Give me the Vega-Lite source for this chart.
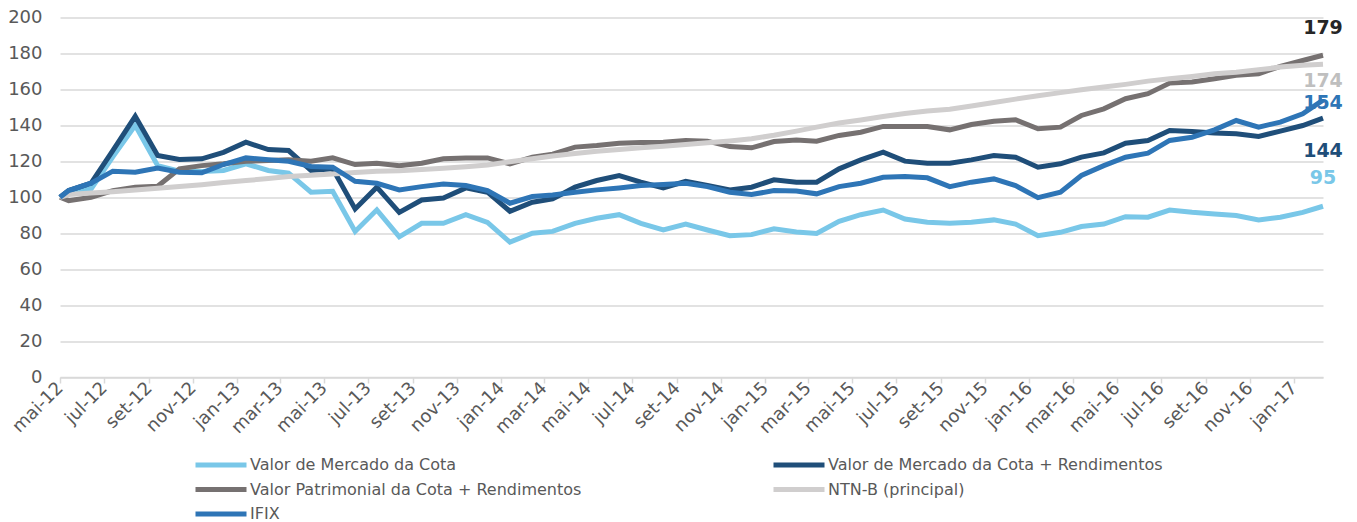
{
  "$schema": "https://vega.github.io/schema/vega-lite/v6.json",
  "width": 1263,
  "height": 359.5,
  "autosize": {"type": "none"},
  "padding": {"left": 60, "top": 17.5, "right": 34, "bottom": 145},
  "background": "white",
  "config": {
    "view": {"stroke": null},
    "font": "DejaVu Sans",
    "legend": {
      "orient": "none",
      "legendX": 133,
      "legendY": 437.5,
      "columns": 2,
      "symbolType": "stroke",
      "symbolStrokeWidth": 5,
      "symbolSize": 2601,
      "clipHeight": 20,
      "rowPadding": 4.5,
      "columnPadding": 189,
      "labelOffset": 1,
      "labelFontSize": 16,
      "labelFont": "DejaVu Sans",
      "labelColor": "#595959",
      "labelLimit": 0
    }
  },
  "datasets": {
    "mercado": [
      {"date": "2012-05-01", "value": 100},
      {"date": "2012-05-13", "value": 102.8}, {"date": "2012-06-13", "value": 104.6}, {"date": "2012-07-13", "value": 122.5}, {"date": "2012-08-13", "value": 140}, {"date": "2012-09-13", "value": 117.6}, {"date": "2012-10-13", "value": 114.5}, {"date": "2012-11-13", "value": 114.3}, {"date": "2012-12-13", "value": 114.9},
      {"date": "2013-01-13", "value": 118.6}, {"date": "2013-02-13", "value": 114.9}, {"date": "2013-03-13", "value": 113.4}, {"date": "2013-04-13", "value": 102.8}, {"date": "2013-05-13", "value": 103.3}, {"date": "2013-06-13", "value": 81}, {"date": "2013-07-13", "value": 93}, {"date": "2013-08-13", "value": 78}, {"date": "2013-09-13", "value": 85.5}, {"date": "2013-10-13", "value": 85.5}, {"date": "2013-11-13", "value": 90.3}, {"date": "2013-12-13", "value": 86},
      {"date": "2014-01-13", "value": 75}, {"date": "2014-02-13", "value": 80}, {"date": "2014-03-13", "value": 81}, {"date": "2014-04-13", "value": 85.5}, {"date": "2014-05-13", "value": 88.3}, {"date": "2014-06-13", "value": 90.3}, {"date": "2014-07-13", "value": 85.5}, {"date": "2014-08-13", "value": 81.8}, {"date": "2014-09-13", "value": 85.1}, {"date": "2014-10-13", "value": 81.8}, {"date": "2014-11-13", "value": 78.6}, {"date": "2014-12-13", "value": 79.2},
      {"date": "2015-01-13", "value": 82.4}, {"date": "2015-02-13", "value": 80.7}, {"date": "2015-03-13", "value": 79.9}, {"date": "2015-04-13", "value": 86.6}, {"date": "2015-05-13", "value": 90.3}, {"date": "2015-06-13", "value": 92.9}, {"date": "2015-07-13", "value": 87.9}, {"date": "2015-08-13", "value": 86.1}, {"date": "2015-09-13", "value": 85.5}, {"date": "2015-10-13", "value": 86.1}, {"date": "2015-11-13", "value": 87.4}, {"date": "2015-12-13", "value": 85.1},
      {"date": "2016-01-13", "value": 78.6}, {"date": "2016-02-13", "value": 80.5}, {"date": "2016-03-13", "value": 83.7}, {"date": "2016-04-13", "value": 85.1}, {"date": "2016-05-13", "value": 89.2}, {"date": "2016-06-13", "value": 88.9}, {"date": "2016-07-13", "value": 92.9}, {"date": "2016-08-13", "value": 91.6}, {"date": "2016-09-13", "value": 90.7}, {"date": "2016-10-13", "value": 89.8}, {"date": "2016-11-13", "value": 87.4}, {"date": "2016-12-13", "value": 88.9},
      {"date": "2017-01-13", "value": 91.6}, {"date": "2017-02-10", "value": 95}
    ],
    "mercadoRend": [
      {"date": "2012-05-01", "value": 100},
      {"date": "2012-05-13", "value": 103.7}, {"date": "2012-06-13", "value": 107.8}, {"date": "2012-07-13", "value": 126}, {"date": "2012-08-13", "value": 145}, {"date": "2012-09-13", "value": 123.2}, {"date": "2012-10-13", "value": 121}, {"date": "2012-11-13", "value": 121.4}, {"date": "2012-12-13", "value": 125},
      {"date": "2013-01-13", "value": 130.6}, {"date": "2013-02-13", "value": 126.5}, {"date": "2013-03-13", "value": 126}, {"date": "2013-04-13", "value": 114.9}, {"date": "2013-05-13", "value": 115.8}, {"date": "2013-06-13", "value": 93.5}, {"date": "2013-07-13", "value": 105.6}, {"date": "2013-08-13", "value": 91.6}, {"date": "2013-09-13", "value": 98.5}, {"date": "2013-10-13", "value": 99.6}, {"date": "2013-11-13", "value": 105.2}, {"date": "2013-12-13", "value": 102.8},
      {"date": "2014-01-13", "value": 92.2}, {"date": "2014-02-13", "value": 97.2}, {"date": "2014-03-13", "value": 99.1}, {"date": "2014-04-13", "value": 105.6}, {"date": "2014-05-13", "value": 109.3}, {"date": "2014-06-13", "value": 112.1}, {"date": "2014-07-13", "value": 108.4}, {"date": "2014-08-13", "value": 105.2}, {"date": "2014-09-13", "value": 108.9}, {"date": "2014-10-13", "value": 106.5}, {"date": "2014-11-13", "value": 104.1}, {"date": "2014-12-13", "value": 105.6},
      {"date": "2015-01-13", "value": 109.7}, {"date": "2015-02-13", "value": 108.4}, {"date": "2015-03-13", "value": 108.4}, {"date": "2015-04-13", "value": 115.8}, {"date": "2015-05-13", "value": 120.8}, {"date": "2015-06-13", "value": 125.1}, {"date": "2015-07-13", "value": 120.1}, {"date": "2015-08-13", "value": 118.9}, {"date": "2015-09-13", "value": 118.9}, {"date": "2015-10-13", "value": 120.8}, {"date": "2015-11-13", "value": 123.2}, {"date": "2015-12-13", "value": 122.3},
      {"date": "2016-01-13", "value": 116.7}, {"date": "2016-02-13", "value": 118.6}, {"date": "2016-03-13", "value": 122.3}, {"date": "2016-04-13", "value": 124.7}, {"date": "2016-05-13", "value": 130.1}, {"date": "2016-06-13", "value": 131.6}, {"date": "2016-07-13", "value": 137.1}, {"date": "2016-08-13", "value": 136.6}, {"date": "2016-09-13", "value": 135.8}, {"date": "2016-10-13", "value": 135.3}, {"date": "2016-11-13", "value": 133.8}, {"date": "2016-12-13", "value": 136.8},
      {"date": "2017-01-13", "value": 139.9}, {"date": "2017-02-10", "value": 144}
    ],
    "patrimonial": [
      {"date": "2012-05-01", "value": 100},
      {"date": "2012-05-13", "value": 98.1}, {"date": "2012-06-13", "value": 100}, {"date": "2012-07-13", "value": 103.7}, {"date": "2012-08-13", "value": 105.6}, {"date": "2012-09-13", "value": 106.1}, {"date": "2012-10-13", "value": 115.8}, {"date": "2012-11-13", "value": 117.6}, {"date": "2012-12-13", "value": 118.6},
      {"date": "2013-01-13", "value": 120}, {"date": "2013-02-13", "value": 120.4}, {"date": "2013-03-13", "value": 120.8}, {"date": "2013-04-13", "value": 120}, {"date": "2013-05-13", "value": 121.9}, {"date": "2013-06-13", "value": 118.2}, {"date": "2013-07-13", "value": 118.9}, {"date": "2013-08-13", "value": 117.6}, {"date": "2013-09-13", "value": 118.9}, {"date": "2013-10-13", "value": 121.4}, {"date": "2013-11-13", "value": 121.9}, {"date": "2013-12-13", "value": 121.9},
      {"date": "2014-01-13", "value": 118.6}, {"date": "2014-02-13", "value": 122.3}, {"date": "2014-03-13", "value": 124}, {"date": "2014-04-13", "value": 127.9}, {"date": "2014-05-13", "value": 128.8}, {"date": "2014-06-13", "value": 130.1}, {"date": "2014-07-13", "value": 130.5}, {"date": "2014-08-13", "value": 130.6}, {"date": "2014-09-13", "value": 131.6}, {"date": "2014-10-13", "value": 131.2}, {"date": "2014-11-13", "value": 128.2}, {"date": "2014-12-13", "value": 127.5},
      {"date": "2015-01-13", "value": 131}, {"date": "2015-02-13", "value": 131.8}, {"date": "2015-03-13", "value": 131.2}, {"date": "2015-04-13", "value": 134.4}, {"date": "2015-05-13", "value": 136.2}, {"date": "2015-06-13", "value": 139.4}, {"date": "2015-07-13", "value": 139.4}, {"date": "2015-08-13", "value": 139.4}, {"date": "2015-09-13", "value": 137.5}, {"date": "2015-10-13", "value": 140.5}, {"date": "2015-11-13", "value": 142.3}, {"date": "2015-12-13", "value": 143.1},
      {"date": "2016-01-13", "value": 138.1}, {"date": "2016-02-13", "value": 139}, {"date": "2016-03-13", "value": 145.5}, {"date": "2016-04-13", "value": 149.2}, {"date": "2016-05-13", "value": 154.8}, {"date": "2016-06-13", "value": 157.6}, {"date": "2016-07-13", "value": 163.5}, {"date": "2016-08-13", "value": 164.1}, {"date": "2016-09-13", "value": 165.9}, {"date": "2016-10-13", "value": 167.8}, {"date": "2016-11-13", "value": 168.7}, {"date": "2016-12-13", "value": 172.8},
      {"date": "2017-01-13", "value": 176.1}, {"date": "2017-02-10", "value": 179}
    ],
    "ntnb": [
      {"date": "2012-05-01", "value": 100},
      {"date": "2012-05-13", "value": 101.5}, {"date": "2012-06-13", "value": 102.3}, {"date": "2012-07-13", "value": 103.1}, {"date": "2012-08-13", "value": 104}, {"date": "2012-09-13", "value": 105}, {"date": "2012-10-13", "value": 106}, {"date": "2012-11-13", "value": 107}, {"date": "2012-12-13", "value": 108.2},
      {"date": "2013-01-13", "value": 109.3}, {"date": "2013-02-13", "value": 110.4}, {"date": "2013-03-13", "value": 111.5}, {"date": "2013-04-13", "value": 112.2}, {"date": "2013-05-13", "value": 113}, {"date": "2013-06-13", "value": 113.8}, {"date": "2013-07-13", "value": 114.4}, {"date": "2013-08-13", "value": 114.8}, {"date": "2013-09-13", "value": 115.4}, {"date": "2013-10-13", "value": 116.2}, {"date": "2013-11-13", "value": 117}, {"date": "2013-12-13", "value": 118},
      {"date": "2014-01-13", "value": 119.8}, {"date": "2014-02-13", "value": 121.4}, {"date": "2014-03-13", "value": 123}, {"date": "2014-04-13", "value": 124.3}, {"date": "2014-05-13", "value": 125.6}, {"date": "2014-06-13", "value": 126.6}, {"date": "2014-07-13", "value": 127.5}, {"date": "2014-08-13", "value": 128.4}, {"date": "2014-09-13", "value": 129.3}, {"date": "2014-10-13", "value": 130.3}, {"date": "2014-11-13", "value": 131.3}, {"date": "2014-12-13", "value": 132.5},
      {"date": "2015-01-13", "value": 134.5}, {"date": "2015-02-13", "value": 136.8}, {"date": "2015-03-13", "value": 139}, {"date": "2015-04-13", "value": 141.3}, {"date": "2015-05-13", "value": 143}, {"date": "2015-06-13", "value": 144.9}, {"date": "2015-07-13", "value": 146.6}, {"date": "2015-08-13", "value": 148}, {"date": "2015-09-13", "value": 149}, {"date": "2015-10-13", "value": 150.8}, {"date": "2015-11-13", "value": 152.7}, {"date": "2015-12-13", "value": 154.6},
      {"date": "2016-01-13", "value": 156.5}, {"date": "2016-02-13", "value": 158.2}, {"date": "2016-03-13", "value": 159.8}, {"date": "2016-04-13", "value": 161.3}, {"date": "2016-05-13", "value": 162.8}, {"date": "2016-06-13", "value": 164.6}, {"date": "2016-07-13", "value": 165.9}, {"date": "2016-08-13", "value": 167.2}, {"date": "2016-09-13", "value": 168.7}, {"date": "2016-10-13", "value": 169.6}, {"date": "2016-11-13", "value": 170.9}, {"date": "2016-12-13", "value": 172.4},
      {"date": "2017-01-13", "value": 173.4}, {"date": "2017-02-10", "value": 174}
    ],
    "ifix": [
      {"date": "2012-05-01", "value": 100},
      {"date": "2012-05-13", "value": 103.7}, {"date": "2012-06-13", "value": 107.8}, {"date": "2012-07-13", "value": 114.5}, {"date": "2012-08-13", "value": 113.9}, {"date": "2012-09-13", "value": 116.3}, {"date": "2012-10-13", "value": 113.9}, {"date": "2012-11-13", "value": 113.6}, {"date": "2012-12-13", "value": 118.2},
      {"date": "2013-01-13", "value": 121.9}, {"date": "2013-02-13", "value": 120.8}, {"date": "2013-03-13", "value": 120}, {"date": "2013-04-13", "value": 117.1}, {"date": "2013-05-13", "value": 116.7}, {"date": "2013-06-13", "value": 108.9}, {"date": "2013-07-13", "value": 107.8}, {"date": "2013-08-13", "value": 104.1}, {"date": "2013-09-13", "value": 105.9}, {"date": "2013-10-13", "value": 107.4}, {"date": "2013-11-13", "value": 106.5}, {"date": "2013-12-13", "value": 103.7},
      {"date": "2014-01-13", "value": 96.7}, {"date": "2014-02-13", "value": 100.4}, {"date": "2014-03-13", "value": 101.2}, {"date": "2014-04-13", "value": 102.8}, {"date": "2014-05-13", "value": 104.1}, {"date": "2014-06-13", "value": 105.2}, {"date": "2014-07-13", "value": 106.5}, {"date": "2014-08-13", "value": 107.1}, {"date": "2014-09-13", "value": 107.8}, {"date": "2014-10-13", "value": 105.9}, {"date": "2014-11-13", "value": 102.8}, {"date": "2014-12-13", "value": 101.5},
      {"date": "2015-01-13", "value": 103.7}, {"date": "2015-02-13", "value": 103.5}, {"date": "2015-03-13", "value": 101.9}, {"date": "2015-04-13", "value": 105.9}, {"date": "2015-05-13", "value": 107.8}, {"date": "2015-06-13", "value": 111.1}, {"date": "2015-07-13", "value": 111.5}, {"date": "2015-08-13", "value": 110.8}, {"date": "2015-09-13", "value": 105.9}, {"date": "2015-10-13", "value": 108.4}, {"date": "2015-11-13", "value": 110.2}, {"date": "2015-12-13", "value": 106.5},
      {"date": "2016-01-13", "value": 99.8}, {"date": "2016-02-13", "value": 102.8}, {"date": "2016-03-13", "value": 112.1}, {"date": "2016-04-13", "value": 117.6}, {"date": "2016-05-13", "value": 122.3}, {"date": "2016-06-13", "value": 124.5}, {"date": "2016-07-13", "value": 131.6}, {"date": "2016-08-13", "value": 133.4}, {"date": "2016-09-13", "value": 137.5}, {"date": "2016-10-13", "value": 142.7}, {"date": "2016-11-13", "value": 139}, {"date": "2016-12-13", "value": 141.8},
      {"date": "2017-01-13", "value": 146.4}, {"date": "2017-02-10", "value": 154}
    ]
  },
  "encoding": {
    "x": {
      "field": "date",
      "type": "temporal",
      "scale": {"type": "utc", "domain": [{"year": 2012, "month": 5, "date": 1, "utc": true}, {"year": 2017, "month": 2, "date": 10, "utc": true}]},
      "axis": {
        "title": null,
        "grid": false,
        "tickCount": {"interval": "month", "step": 2},
        "labelExpr": "['jan','fev','mar','abr','mai','jun','jul','ago','set','out','nov','dez'][utcmonth(datum.value)] + '-' + utcFormat(datum.value, '%y')",
        "labelAngle": -45,
        "labelAlign": "right",
        "labelBaseline": "middle",
        "labelFontSize": 18,
        "labelFont": "DejaVu Sans",
        "labelColor": "#595959",
        "labelPadding": 2,
        "labelOverlap": false,
        "labelFlush": false,
        "labelBound": false,
        "domainColor": "#d9d9d9",
        "domainWidth": 1.5,
        "tickColor": "#d9d9d9",
        "tickWidth": 1.5,
        "tickSize": 6
      }
    },
    "y": {
      "field": "value",
      "type": "quantitative",
      "scale": {"domain": [0, 200], "nice": false},
      "axis": {
        "title": null,
        "tickCount": 10,
        "domain": false,
        "ticks": false,
        "tickSize": 0,
        "gridColor": "#d9d9d9",
        "gridWidth": 1.5,
        "labelFontSize": 18,
        "labelFont": "DejaVu Sans",
        "labelColor": "#595959",
        "labelPadding": 18
      }
    }
  },
  "layer": [
    {
      "data": {"name": "mercado"},
      "mark": {"type": "line", "strokeWidth": 5},
      "encoding": {"color": {"datum": "Valor de Mercado da Cota", "type": "nominal", "scale": {"domain": ["Valor de Mercado da Cota", "Valor Patrimonial da Cota + Rendimentos", "IFIX", "Valor de Mercado da Cota + Rendimentos", "NTN-B (principal)"], "range": ["#79c7e8", "#767171", "#2e75b6", "#1f4e79", "#d0cece"]}, "legend": {"title": null}}}
    },
    {
      "data": {"name": "mercadoRend"},
      "mark": {"type": "line", "strokeWidth": 5},
      "encoding": {"color": {"datum": "Valor de Mercado da Cota + Rendimentos", "type": "nominal", "scale": {"domain": ["Valor de Mercado da Cota", "Valor Patrimonial da Cota + Rendimentos", "IFIX", "Valor de Mercado da Cota + Rendimentos", "NTN-B (principal)"], "range": ["#79c7e8", "#767171", "#2e75b6", "#1f4e79", "#d0cece"]}, "legend": {"title": null}}}
    },
    {
      "data": {"name": "patrimonial"},
      "mark": {"type": "line", "strokeWidth": 5},
      "encoding": {"color": {"datum": "Valor Patrimonial da Cota + Rendimentos", "type": "nominal", "scale": {"domain": ["Valor de Mercado da Cota", "Valor Patrimonial da Cota + Rendimentos", "IFIX", "Valor de Mercado da Cota + Rendimentos", "NTN-B (principal)"], "range": ["#79c7e8", "#767171", "#2e75b6", "#1f4e79", "#d0cece"]}, "legend": {"title": null}}}
    },
    {
      "data": {"name": "ntnb"},
      "mark": {"type": "line", "strokeWidth": 5},
      "encoding": {"color": {"datum": "NTN-B (principal)", "type": "nominal", "scale": {"domain": ["Valor de Mercado da Cota", "Valor Patrimonial da Cota + Rendimentos", "IFIX", "Valor de Mercado da Cota + Rendimentos", "NTN-B (principal)"], "range": ["#79c7e8", "#767171", "#2e75b6", "#1f4e79", "#d0cece"]}, "legend": {"title": null}}}
    },
    {
      "data": {"name": "ifix"},
      "mark": {"type": "line", "strokeWidth": 5},
      "encoding": {"color": {"datum": "IFIX", "type": "nominal", "scale": {"domain": ["Valor de Mercado da Cota", "Valor Patrimonial da Cota + Rendimentos", "IFIX", "Valor de Mercado da Cota + Rendimentos", "NTN-B (principal)"], "range": ["#79c7e8", "#767171", "#2e75b6", "#1f4e79", "#d0cece"]}, "legend": {"title": null}}}
    },
    {
      "data": {"values": [{"date": "2017-02-10", "value": 179}]},
      "mark": {"type": "text", "font": "DejaVu Sans", "fontSize": 19, "fontWeight": "bold", "color": "#262626", "align": "center", "baseline": "middle", "dy": -27.6},
      "encoding": {"text": {"field": "value", "type": "quantitative", "format": ".0f"}}
    },
    {
      "data": {"values": [{"date": "2017-02-10", "value": 174}]},
      "mark": {"type": "text", "font": "DejaVu Sans", "fontSize": 19, "fontWeight": "bold", "color": "#bfbfbf", "align": "center", "baseline": "middle", "dy": 16.7},
      "encoding": {"text": {"field": "value", "type": "quantitative", "format": ".0f"}}
    },
    {
      "data": {"values": [{"date": "2017-02-10", "value": 154}]},
      "mark": {"type": "text", "font": "DejaVu Sans", "fontSize": 19, "fontWeight": "bold", "color": "#2e75b6", "align": "center", "baseline": "middle", "dy": 3},
      "encoding": {"text": {"field": "value", "type": "quantitative", "format": ".0f"}}
    },
    {
      "data": {"values": [{"date": "2017-02-10", "value": 144}]},
      "mark": {"type": "text", "font": "DejaVu Sans", "fontSize": 19, "fontWeight": "bold", "color": "#1f4e79", "align": "center", "baseline": "middle", "dy": 32.7},
      "encoding": {"text": {"field": "value", "type": "quantitative", "format": ".0f"}}
    },
    {
      "data": {"values": [{"date": "2017-02-10", "value": 95}]},
      "mark": {"type": "text", "font": "DejaVu Sans", "fontSize": 19, "fontWeight": "bold", "color": "#79c7e8", "align": "center", "baseline": "middle", "dy": -28.7},
      "encoding": {"text": {"field": "value", "type": "quantitative", "format": ".0f"}}
    }
  ]
}
